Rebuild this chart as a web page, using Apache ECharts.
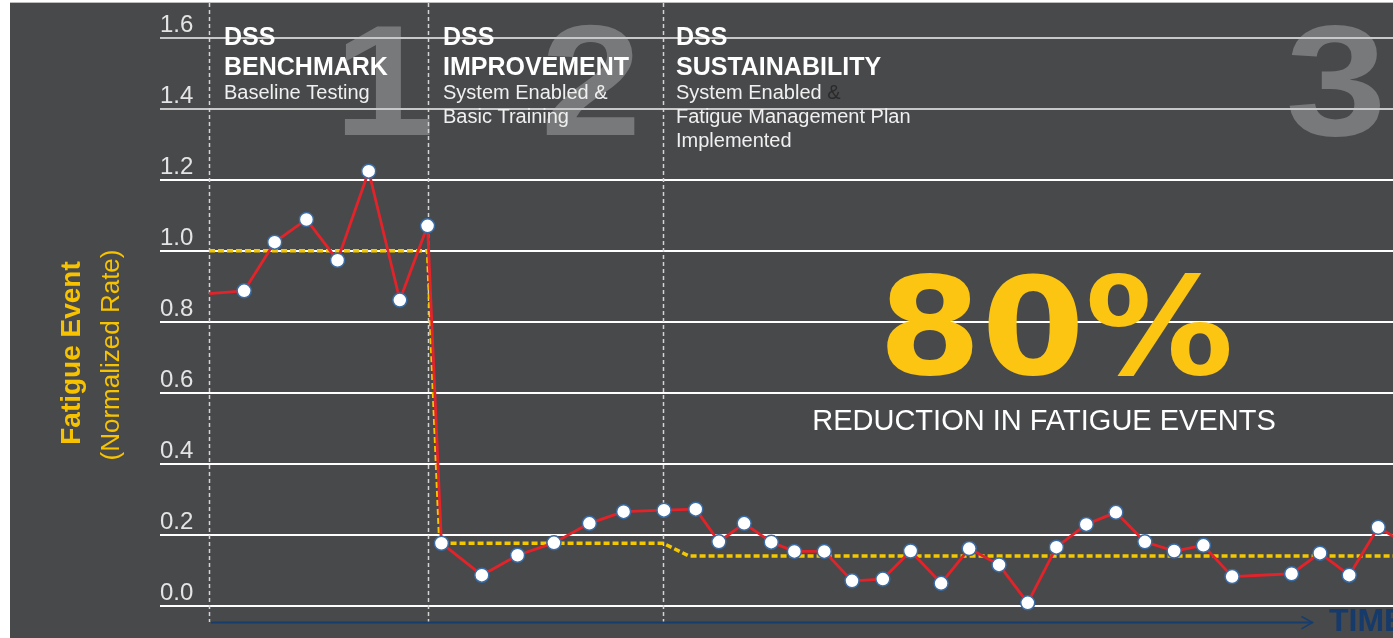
<!DOCTYPE html>
<html>
<head>
<meta charset="utf-8">
<script src="https://cdn.jsdelivr.net/npm/echarts@6/dist/echarts.min.js"></script>
<style>
  html, body { margin:0; padding:0; background:#ffffff; width:1393px; height:638px; overflow:hidden; }
  #panel { position:absolute; left:10px; top:3px; width:1383px; height:635px; background:#48494b; }
  #topline { position:absolute; left:10px; top:2px; width:1383px; height:1px; background:#bdbdbd; }
  #chart { position:absolute; left:0; top:0; width:1393px; height:638px; }
</style>
</head>
<body>
<div id="topline"></div>
<div id="panel"></div>
<div id="chart"></div>
<script>
// ---- data (time in periods, rate normalised) ----
const timeX = [1.59, 2.73, 3.72, 4.75, 5.76, 6.77, 7.78, 8.68, 9.13, 10.44, 11.60, 12.78, 13.93, 15.04, 16.35, 17.38, 18.13, 18.95, 19.83, 20.58, 21.55, 22.45, 23.45, 24.35, 25.34, 26.25, 27.22, 28.15, 29.08, 30.05, 31.01, 31.95, 32.90, 33.85, 34.78, 36.71, 37.63, 38.58, 39.52, 40.49];
const fatigueRate = [0.879, 0.887, 1.024, 1.088, 0.973, 1.224, 0.861, 1.070, 0.176, 0.086, 0.142, 0.177, 0.232, 0.265, 0.269, 0.272, 0.180, 0.232, 0.179, 0.153, 0.153, 0.070, 0.075, 0.154, 0.063, 0.161, 0.115, 0.008, 0.165, 0.229, 0.263, 0.180, 0.154, 0.170, 0.082, 0.090, 0.148, 0.086, 0.221, 0.171];
const avgX = [1.59, 8.68, 9.08, 16.32, 17.16, 40];
const avgRate = [1.0, 1.0, 0.176, 0.176, 0.14, 0.14];
const phaseX = [1.59, 8.68, 16.32];
const yTicks = ['0.0', '0.2', '0.4', '0.6', '0.8', '1.0', '1.2', '1.4', '1.6'];
const phaseNumbers = ['1', '2', '3'];
const headline = '80%';
const headlineSub = 'REDUCTION IN FATIGUE EVENTS';

const FONT = 'Liberation Sans, Arial, sans-serif';
const chart = echarts.init(document.getElementById('chart'), null, { renderer: 'canvas' });

const rateData = timeX.map((x, i) => i === 0 ? { value: [x, fatigueRate[i]], symbol: 'none' } : [x, fatigueRate[i]]);
const avgData = avgX.map((x, i) => [x, avgRate[i]]);

function txt(x, y, text, size, weight, color) {
  return {
    type: 'text', x: x, y: y + 0.09 * size, z: 10,
    style: {
      text: text, fontSize: size, fontWeight: weight, fontFamily: FONT,
      fill: color, verticalAlign: 'middle', align: 'left'
    }
  };
}

function bigNum(x, t) {
  return { type: 'text', x: x, y: 91, z: -1, scaleX: 1.15,
    style: { text: t, fontSize: 158, fontWeight: 'bold', fontFamily: FONT, fill: '#78797a', align: 'center', verticalAlign: 'middle' } };
}

const graphics = [
  bigNum(384, phaseNumbers[0]),
  bigNum(591, phaseNumbers[1]),
  bigNum(1336, phaseNumbers[2]),

  // phase 1
  txt(224, 36, 'DSS', 25, 'bold', '#ffffff'),
  txt(224, 66, 'BENCHMARK', 25, 'bold', '#ffffff'),
  txt(224, 92, 'Baseline Testing', 20, 'normal', '#f0f0f0'),
  // phase 2
  txt(443, 36, 'DSS', 25, 'bold', '#ffffff'),
  txt(443, 66, 'IMPROVEMENT', 25, 'bold', '#ffffff'),
  txt(443, 92, 'System Enabled &', 20, 'normal', '#f0f0f0'),
  txt(443, 116, 'Basic Training', 20, 'normal', '#f0f0f0'),
  // phase 3
  txt(676, 36, 'DSS', 25, 'bold', '#ffffff'),
  txt(676, 66, 'SUSTAINABILITY', 25, 'bold', '#ffffff'),
  {
    type: 'text', x: 676, y: 93.8, z: 10,
    style: {
      text: '{a|System Enabled }{b|&}', verticalAlign: 'middle', align: 'left',
      rich: {
        a: { fontSize: 20, fontFamily: FONT, fill: '#f0f0f0' },
        b: { fontSize: 20, fontFamily: FONT, fill: '#2a2a2a' }
      }
    }
  },
  txt(676, 116, 'Fatigue Management Plan', 20, 'normal', '#f0f0f0'),
  txt(676, 140, 'Implemented', 20, 'normal', '#f0f0f0'),

  // headline
  { type: 'text', x: 1056, y: 339, z: 10, scaleX: 1.1, style: { text: headline, fontSize: 135, fontWeight: 'bold', fontFamily: 'DejaVu Sans', fill: '#fcc512', align: 'center', verticalAlign: 'middle', shadowColor: 'rgba(0,0,0,0.45)', shadowBlur: 3, shadowOffsetX: 2, shadowOffsetY: 2 } },
  { type: 'text', x: 1044, y: 421.5, z: 10, style: { text: headlineSub, fontSize: 29, fontFamily: FONT, fill: '#ffffff', align: 'center', verticalAlign: 'middle', shadowColor: 'rgba(0,0,0,0.5)', shadowBlur: 2, shadowOffsetX: 1, shadowOffsetY: 1 } },

  // y axis titles
  { type: 'text', x: 72, y: 353, rotation: Math.PI / 2, z: 10, style: { text: 'Fatigue Event', fontSize: 28, fontWeight: 'bold', fontFamily: FONT, fill: '#f7c300', align: 'center', verticalAlign: 'middle' } },
  { type: 'text', x: 112, y: 355, rotation: Math.PI / 2, z: 10, style: { text: '(Normalized Rate)', fontSize: 26, fontFamily: FONT, fill: '#f7c300', align: 'center', verticalAlign: 'middle' } },

  // time arrow
  { type: 'line', z: 5, shape: { x1: 211, y1: 622.5, x2: 1312.5, y2: 622.5 }, style: { stroke: '#173d6d', lineWidth: 2 } },
  { type: 'polyline', z: 5, shape: { points: [[1301.5, 616.5], [1312.5, 622.5], [1301.5, 628.8]] }, style: { stroke: '#173d6d', lineWidth: 1.5, fill: null } },
  txt(1329, 619.5, 'TIME', 32, 'bold', '#163a6a')
];

chart.setOption({
  animation: false,
  backgroundColor: 'transparent',
  grid: { left: 160, right: 0, top: 37.7, bottom: 32.3, containLabel: false },
  xAxis: {
    type: 'value', min: 0, max: 40,
    axisLine: { show: false }, axisTick: { show: false }, axisLabel: { show: false }, splitLine: { show: false }
  },
  yAxis: {
    type: 'value', min: 0, max: 1.6, interval: 0.2,
    axisLine: { show: false }, axisTick: { show: false },
    axisLabel: {
      inside: true, margin: 0, verticalAlign: 'bottom', padding: [0, 0, 0, 0],
      color: '#e4e4e4', fontSize: 24, fontFamily: FONT,
      showMinLabel: true, showMaxLabel: true,
      formatter: (v) => yTicks[Math.round(v / 0.2)]
    },
    splitLine: {
      lineStyle: {
        width: 2,
        color: ['#ffffff', '#ffffff', '#ffffff', '#ffffff', '#ffffff', '#ffffff', '#ffffff', '#c8c8c8', '#c8c8c8']
      }
    }
  },
  series: [
    {
      name: 'Average', type: 'line', data: avgData, symbol: 'none', clip: true, z: 3,
      lineStyle: { color: '#f4c800', width: 3.5, type: [6, 3] }
    },
    {
      name: 'Fatigue rate', type: 'line', data: rateData, clip: true, z: 4,
      symbol: 'circle', symbolSize: 14,
      lineStyle: { color: '#e3232a', width: 2.8 },
      itemStyle: { color: '#ffffff', borderColor: '#3a6ba3', borderWidth: 1.5 }
    }
  ],
  graphic: { elements: graphics }
});

// phase boundary lines placed through the x scale
const phaseLines = phaseX.map((v) => {
  const px = Math.round(chart.convertToPixel({ xAxisIndex: 0 }, v)) + 0.5;
  return { type: 'line', z: 1, shape: { x1: px, y1: 3, x2: px, y2: 622 }, style: { stroke: '#d4d4d4', lineWidth: 1.5, lineDash: [4, 3] } };
});
chart.setOption({ graphic: { elements: graphics.concat(phaseLines) } });
</script>
</body>
</html>
